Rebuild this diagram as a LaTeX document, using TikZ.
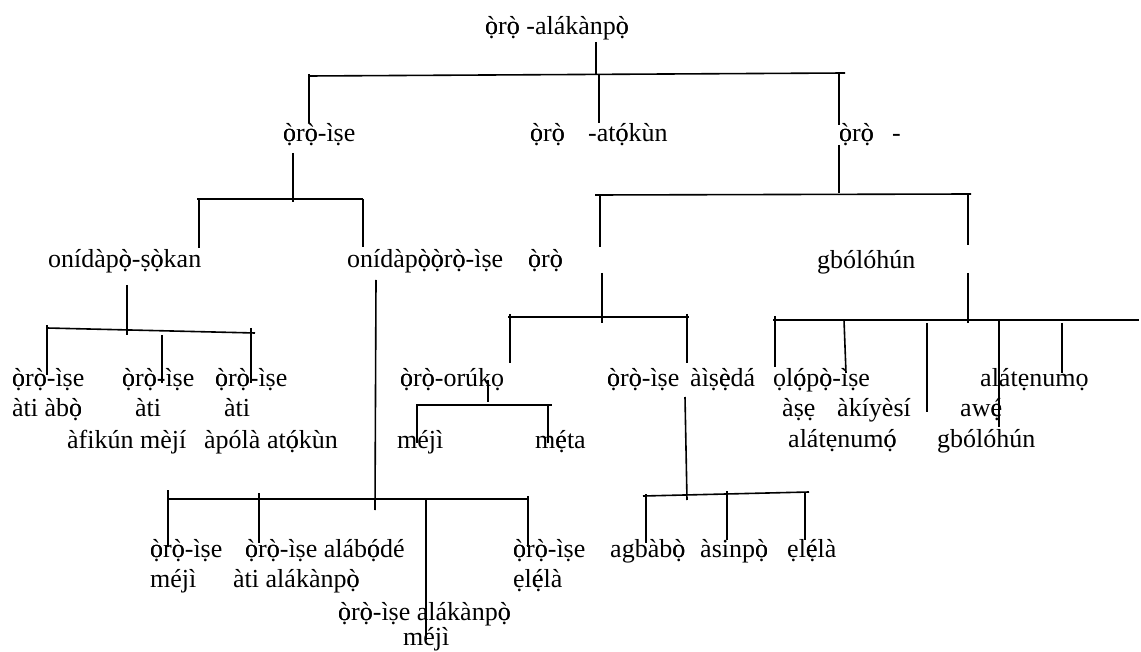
\documentclass[tikz,border=0pt]{standalone}
\usepackage{fontspec}
\setmainfont{Liberation Serif}
\usepackage{tikz}

\newcommand\Ogr{\ooalign{ò\cr ọ\cr}}
\newcommand\Oac{\ooalign{ó\cr ọ\cr}}
\newcommand\Egr{\ooalign{è\cr ẹ\cr}}
\newcommand\Eac{\ooalign{é\cr ẹ\cr}}

\tikzset{
  word/.style={anchor=base west, inner sep=0pt, font=\fontsize{26}{30}\selectfont},
  bar/.style={line width=1.6pt}
}

\begin{document}
\begin{tikzpicture}[x=1pt, y=-1pt]
  \useasboundingbox (0,0) rectangle (1141,652);
  \node[word] (root) at (485,35) {\Ogr r\Ogr{} -alákànp\Ogr};
  \node[word] (ise) at (283,142) {\Ogr r\Ogr-ìṣe};
  \node[word] (atk) at (530,142) {\Ogr r\Ogr};
  \node[word] (atkb) at (588,142) {-at\Oac kùn};
  \node[word] (gbo) at (839,142) {\Ogr r\Ogr};
  \node[word] (gbob) at (892,142) {-};
  \node[word] (sok) at (48,268) {onídàp\Ogr-ṣ\Ogr kan};
  \node[word] (onise) at (347,268) {onídàp\Ogr\Ogr r\Ogr-ìṣe};
  \node[word] (oro) at (528,268) {\Ogr r\Ogr};
  \node[word] (gbl) at (817,269) {gbólóhún};
  \node[word] (a1) at (12,387) {\Ogr r\Ogr-ìṣe};
  \node[word] (a1b) at (12,417) {àti àb\Ogr};
  \node[word] (a2) at (122,387) {\Ogr r\Ogr-ìṣe};
  \node[word] (a2b) at (135,417) {àti};
  \node[word] (a2c) at (67,448) {àfikún mèjí};
  \node[word] (a3) at (215,387) {\Ogr r\Ogr-ìṣe};
  \node[word] (a3b) at (224,417) {àti};
  \node[word] (a3c) at (204,448) {àpólà at\Oac kùn};
  \node[word] (ork) at (400,387) {\Ogr r\Ogr-orúkọ};
  \node[word] (mj) at (397,448) {méjì};
  \node[word] (mt) at (535,448) {m\Eac ta};
  \node[word] (ais) at (607,387) {\Ogr r\Ogr-ìṣe};
  \node[word] (aisb) at (690,387) {àìṣ\Egr dá};
  \node[word] (olp) at (773,387) {ọl\Oac p\Ogr-ìṣe};
  \node[word] (ase) at (782,417) {àṣẹ};
  \node[word] (aki) at (837,417) {àkíyèsí};
  \node[word] (alt) at (788,447) {alátẹnum\Oac};
  \node[word] (alt2) at (980,387) {alátẹnumọ};
  \node[word] (awe) at (960,417) {aw\Eac};
  \node[word] (gbl2) at (937,447) {gbólóhún};
  \node[word] (d1) at (150,557) {\Ogr r\Ogr-ìṣe};
  \node[word] (d1b) at (150,587) {méjì};
  \node[word] (d2) at (245,557) {\Ogr r\Ogr-ìṣe aláb\Oac dé};
  \node[word] (d2b) at (233,587) {àti alákànp\Ogr};
  \node[word] (d3) at (338,620) {\Ogr r\Ogr-ìṣe alákànp\Ogr};
  \node[word] (d3b) at (403,645) {méjì};
  \node[word] (d4) at (513,557) {\Ogr r\Ogr-ìṣe};
  \node[word] (d4b) at (513,587) {ẹl\Eac là};
  \node[word] (agb) at (610,557) {agbàb\Ogr};
  \node[word] (asi) at (700,557) {àsinp\Ogr};
  \node[word] (ele) at (787,557) {ẹl\Eac là};

  \draw[bar] (596,42) -- (596,74);
  \draw[bar] (309,76) -- (845,73);
  \draw[bar] (309,74) -- (309,123);
  \draw[bar] (599,74) -- (599,123);
  \draw[bar] (839,73) -- (839,125);
  \draw[bar] (839,145) -- (839,193);
  \draw[bar] (595,195) -- (971,194);
  \draw[bar] (600,195) -- (600,247);
  \draw[bar] (602,273) -- (602,323);
  \draw[bar] (968,194) -- (968,245);
  \draw[bar] (968,273) -- (968,323);
  \draw[bar] (293,153) -- (293,202);
  \draw[bar] (197,199) -- (363,199);
  \draw[bar] (199,199) -- (199,248);
  \draw[bar] (363,199) -- (363,247);
  \draw[bar] (127,285) -- (127,335);
  \draw[bar] (47,328) -- (255,333);
  \draw[bar] (47,325) -- (47,375);
  \draw[bar] (162,335) -- (162,383);
  \draw[bar] (251,328) -- (251,383);
  \draw[bar] (376,280) -- (375,510);
  \draw[bar] (167,499) -- (528,499);
  \draw[bar] (168,490) -- (168,547);
  \draw[bar] (259,493) -- (259,543);
  \draw[bar] (426,499) -- (426,640);
  \draw[bar] (528,496) -- (528,547);
  \draw[bar] (508,317) -- (689,317);
  \draw[bar] (510,314) -- (510,363);
  \draw[bar] (687,314) -- (687,363);
  \draw[bar] (488,380) -- (488,402);
  \draw[bar] (416,405) -- (552,405);
  \draw[bar] (417,405) -- (417,443);
  \draw[bar] (548,405) -- (548,443);
  \draw[bar] (685,397) -- (687,500);
  \draw[bar] (643,496) -- (809,492);
  \draw[bar] (646,494) -- (646,543);
  \draw[bar] (727,491) -- (727,540);
  \draw[bar] (805,492) -- (805,540);
  \draw[bar] (773,320) -- (1139,320);
  \draw[bar] (775,316) -- (775,367);
  \draw[bar] (844,320) -- (846,373);
  \draw[bar] (927,323) -- (927,412);
  \draw[bar] (999,320) -- (999,427);
  \draw[bar] (1062,323) -- (1062,373);
\end{tikzpicture}
\end{document}
